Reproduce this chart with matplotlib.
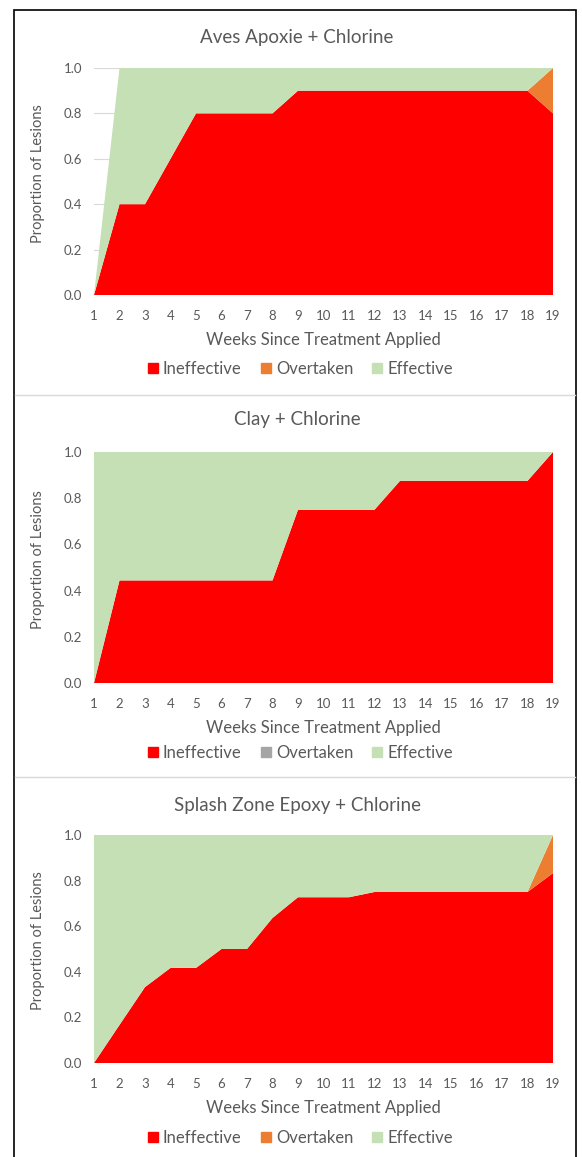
import numpy as np
import matplotlib.pyplot as plt
from matplotlib.patches import Rectangle
from matplotlib.lines import Line2D

plt.rcParams['font.family'] = ['Lato', 'DejaVu Sans']

# 数据
weeks = list(range(1, 20))

aves_ineffective = [0, 0.4, 0.4, 0.6, 0.8, 0.8, 0.8, 0.8, 0.9, 0.9, 0.9, 0.9, 0.9, 0.9, 0.9, 0.9, 0.9, 0.9, 0.8]
aves_overtaken = [0, 0, 0, 0, 0, 0, 0, 0, 0, 0, 0, 0, 0, 0, 0, 0, 0, 0, 0.2]
aves_effective = [0, 0.6, 0.6, 0.4, 0.2, 0.2, 0.2, 0.2, 0.1, 0.1, 0.1, 0.1, 0.1, 0.1, 0.1, 0.1, 0.1, 0.1, 0]

clay_ineffective = [0, 0.444, 0.444, 0.444, 0.444, 0.444, 0.444, 0.444, 0.75, 0.75, 0.75, 0.75,
                    0.875, 0.875, 0.875, 0.875, 0.875, 0.875, 1.0]
clay_overtaken = [0] * 19
clay_effective = [1.0, 0.556, 0.556, 0.556, 0.556, 0.556, 0.556, 0.556, 0.25, 0.25, 0.25, 0.25,
                  0.125, 0.125, 0.125, 0.125, 0.125, 0.125, 0]

splash_ineffective = [0, 0.167, 0.333, 0.417, 0.417, 0.5, 0.5, 0.636, 0.727, 0.727, 0.727, 0.75,
                      0.75, 0.75, 0.75, 0.75, 0.75, 0.75, 0.833]
splash_overtaken = [0, 0, 0, 0, 0, 0, 0, 0, 0, 0, 0, 0, 0, 0, 0, 0, 0, 0, 0.167]
splash_effective = [1.0, 0.833, 0.667, 0.583, 0.583, 0.5, 0.5, 0.364, 0.273, 0.273, 0.273, 0.25,
                    0.25, 0.25, 0.25, 0.25, 0.25, 0.25, 0]

titles = ["Aves Apoxie + Chlorine", "Clay + Chlorine", "Splash Zone Epoxy + Chlorine"]
series_names = ["Ineffective", "Overtaken", "Effective"]

RED = "#FF0000"
ORANGE = "#ED7D31"
GREY = "#A5A5A5"
GREEN = "#C5E0B4"
TXT = "#595959"

W, H = 582, 1157
fig = plt.figure(figsize=(W / 100, H / 100), dpi=100)


def fx(px):
    return px / W


def fy(py):
    return 1 - py / H


# 每个面板的像素位置: (标题y, 图顶, 图底, 轴标题y, 图例y)
panels = [
    (aves_ineffective, aves_overtaken, aves_effective, ORANGE, (38, 68, 295, 340, 369)),
    (clay_ineffective, clay_overtaken, clay_effective, GREY, (420, 452, 683, 728, 753)),
    (splash_ineffective, splash_overtaken, splash_effective, ORANGE, (805, 835, 1063, 1108, 1138)),
]

x_left, x_right = 94, 553

for i, (ineff, over, eff, over_color, pos) in enumerate(panels):
    t_y, top, bot, xl_y, lg_y = pos
    ax = fig.add_axes([fx(x_left), fy(bot), fx(x_right - x_left), (bot - top) / H])
    ax.stackplot(weeks, ineff, over, eff, colors=[RED, over_color, GREEN], linewidth=0)
    ax.set_xlim(1, 19)
    ax.set_ylim(0, 1.0)
    ax.set_xticks(weeks)
    ax.set_yticks(np.arange(0, 1.01, 0.2))
    ax.set_yticklabels([f"{v:.1f}" for v in np.arange(0, 1.01, 0.2)])
    ax.tick_params(length=0, labelsize=9.5, labelcolor=TXT)
    ax.tick_params(axis='x', pad=11)
    ax.tick_params(axis='y', pad=8.5)
    for s in ax.spines.values():
        s.set_visible(False)
    ax.yaxis.grid(True, color="#D9D9D9", linewidth=0.8)
    ax.set_axisbelow(True)

    fig.text(fx(38), fy((top + bot) / 2 - 8), "Proportion of Lesions", rotation=90,
             ha="center", va="center", fontsize=10.5, color=TXT)
    fig.text(fx(297), fy(t_y), titles[i], ha="center", va="center", fontsize=13.5, color=TXT)
    fig.text(fx(323), fy(xl_y), "Weeks Since Treatment Applied", ha="center", va="center",
             fontsize=12, color=TXT)

    handles = [Line2D([], [], marker="s", linestyle="none", markersize=7.5, color=c)
               for c in [RED, over_color, GREEN]]
    fig.legend(handles, series_names, loc="center", bbox_to_anchor=(fx(300), fy(lg_y)),
               ncol=3, frameon=False, fontsize=12, labelcolor=TXT, handlelength=0.7,
               handletextpad=0.25, columnspacing=1.1, borderaxespad=0)

# 外框和分隔线
fig.patches.append(Rectangle((fx(14), fy(1160)), fx(576 - 14), (1160 - 10) / H,
                             transform=fig.transFigure, fill=False, edgecolor="black", linewidth=1.2))
for yy in [395, 777]:
    fig.lines.append(Line2D([fx(15), fx(575)], [fy(yy), fy(yy)], transform=fig.transFigure,
                            color="#D9D9D9", linewidth=1))

fig.savefig("out.png", dpi=100)
